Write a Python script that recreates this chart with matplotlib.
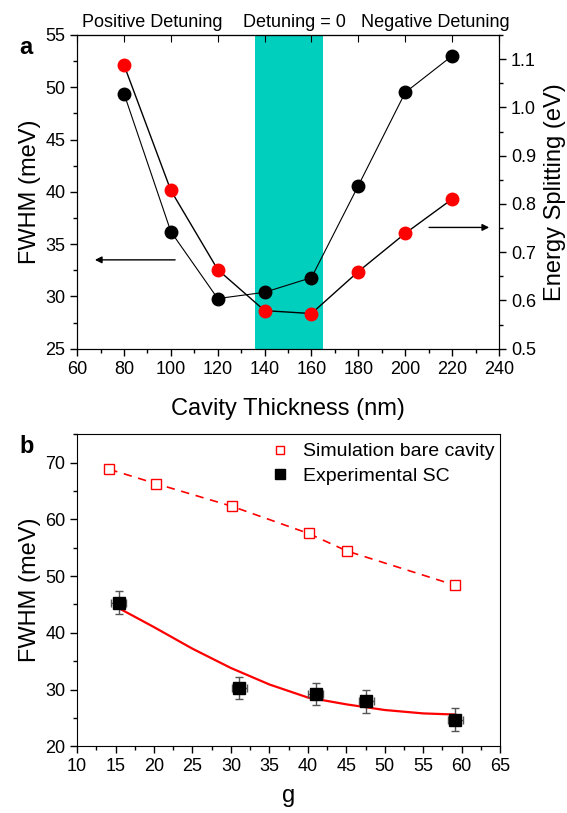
import numpy as np
import matplotlib.pyplot as plt
from matplotlib.ticker import MultipleLocator

plt.rcParams['font.family'] = ['Liberation Sans', 'DejaVu Sans']

# ---- panel a data ----
thickness = [80, 100, 120, 140, 160, 180, 200, 220]
fwhm_a = [49.4, 36.2, 29.8, 30.4, 31.8, 40.6, 49.5, 53.0]
splitting = [1.088, 0.828, 0.664, 0.579, 0.573, 0.660, 0.739, 0.810]
band = [136, 165]

# ---- panel b data ----
g_sim = [14.2, 20.2, 30.1, 40.1, 45.1, 59.1]
fwhm_sim = [68.8, 66.3, 62.3, 57.5, 54.4, 48.4]
g_exp = [15.4, 31.1, 41.0, 47.6, 59.2]
fwhm_exp = [45.3, 30.3, 29.2, 27.9, 24.7]
g_err = [1.0, 1.0, 1.0, 1.0, 1.0]
fwhm_err = [2.0, 2.0, 2.0, 2.0, 2.0]
fit_g = [15.2, 20, 25, 30, 35, 40, 45, 50, 55, 59.2]
fit_fwhm = [44.5, 41.0, 37.2, 33.8, 30.9, 28.6, 27.4, 26.4, 25.8, 25.6]

fig = plt.figure(figsize=(5.67, 8.13), dpi=100)

# -------------------------
# panel a
# -------------------------
ax = fig.add_axes([0.136, 0.571, 0.744, 0.386])
ax.axvspan(band[0], band[1], color='#00CFBE', lw=0, zorder=0)
ax.plot(thickness, fwhm_a, color='k', lw=0.8, marker='o', ms=9,
        mfc='k', mec='k', zorder=3)
ax.set_xlim(60, 240)
ax.set_ylim(25, 55)
ax.xaxis.set_major_locator(MultipleLocator(20))
ax.xaxis.set_minor_locator(MultipleLocator(10))
ax.yaxis.set_major_locator(MultipleLocator(5))
ax.yaxis.set_minor_locator(MultipleLocator(2.5))
ax.tick_params(which='both', direction='out', labelsize=13, width=1)
ax.tick_params(which='major', length=5)
ax.tick_params(which='minor', length=3)
ax.set_xlabel('Cavity Thickness (nm)', fontsize=17, labelpad=15)
ax.set_ylabel('FWHM (meV)', fontsize=17, labelpad=3)

top = ax.secondary_xaxis('top')
top.xaxis.set_major_locator(MultipleLocator(20))
top.tick_params(direction='in', length=5, labeltop=False)

ax2 = ax.twinx()
ax2.plot(thickness, splitting, color='k', lw=1.0, marker='o', ms=9,
         mfc='#FF0000', mec='#FF0000', zorder=3)
ax2.set_ylim(0.5, 1.15)
ax2.yaxis.set_major_locator(MultipleLocator(0.1))
ax2.yaxis.set_minor_locator(MultipleLocator(0.05))
ax2.tick_params(which='both', direction='out', labelsize=13, width=1)
ax2.tick_params(which='major', length=5)
ax2.tick_params(which='minor', length=3)
ax2.set_ylabel('Energy Splitting (eV)', fontsize=17, labelpad=6)
ax2.yaxis.set_major_formatter(plt.FuncFormatter(lambda v, p: f'{v:.1f}'))

ax.annotate('', xy=(66.4, 33.5), xytext=(103, 33.5),
            arrowprops=dict(arrowstyle='-|>', lw=1, color='k', mutation_scale=10))
ax.annotate('', xy=(237, 36.6), xytext=(209, 36.6),
            arrowprops=dict(arrowstyle='-|>', lw=1, color='k', mutation_scale=10))

for xt, txt in [(92, 'Positive Detuning'), (152.7, 'Detuning = 0'),
                (212.8, 'Negative Detuning')]:
    ax.text(xt, 1.012, txt, transform=ax.get_xaxis_transform(),
            ha='center', va='bottom', fontsize=13)

fig.text(0.045, 0.941, 'a', fontsize=17, fontweight='bold', ha='center', va='center')

# -------------------------
# panel b
# -------------------------
bx = fig.add_axes([0.136, 0.082, 0.746, 0.384])
bx.plot(g_sim, fwhm_sim, color='#FF0000', lw=1.2, ls=(0, (5, 4)), zorder=2)
bx.plot(g_sim, fwhm_sim, ls='none', marker='s', ms=7, mfc='white',
        mec='#FF0000', mew=1, label='Simulation bare cavity', zorder=3)
bx.plot(fit_g, fit_fwhm, color='#FF0000', lw=1.6, zorder=2)
bx.errorbar(g_exp, fwhm_exp, xerr=g_err, yerr=fwhm_err, fmt='none',
            ecolor='#555555', elinewidth=1, capsize=3, capthick=1, zorder=3)
bx.plot(g_exp, fwhm_exp, ls='none', marker='s', ms=8, mfc='k', mec='k',
        label='Experimental SC', zorder=4)
bx.set_xlim(10, 65)
bx.set_ylim(20, 75)
bx.xaxis.set_major_locator(MultipleLocator(5))
bx.xaxis.set_minor_locator(MultipleLocator(2.5))
bx.yaxis.set_major_locator(MultipleLocator(10))
bx.yaxis.set_minor_locator(MultipleLocator(5))
bx.tick_params(which='both', direction='out', labelsize=13, width=1)
bx.tick_params(which='major', length=5)
bx.tick_params(which='minor', length=3)
bx.set_xlabel('g', fontsize=17, labelpad=7)
bx.set_ylabel('FWHM (meV)', fontsize=17, labelpad=3)
bx.legend(loc='upper right', bbox_to_anchor=(1.02, 1.016), frameon=False,
          fontsize=14, handletextpad=0.6, labelspacing=0.35, handlelength=1.2,
          borderaxespad=0.3, markerscale=0.85)

fig.text(0.047, 0.451, 'b', fontsize=17, fontweight='bold', ha='center', va='center')

fig.savefig('out.png', dpi=100)
